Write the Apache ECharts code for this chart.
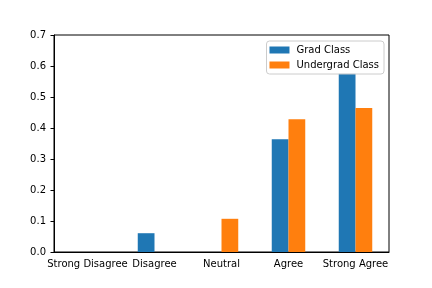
<!DOCTYPE html>
<html><head><meta charset="utf-8">
<script src="https://cdn.jsdelivr.net/npm/echarts@6/dist/echarts.min.js"></script>
<style>html,body{margin:0;padding:0;background:#fff}#c{width:432px;height:288px}</style>
</head><body><div id="c"></div>
<script>
const categories = ['Strong Disagree', 'Disagree', 'Neutral', 'Agree', 'Strong Agree'];
const gradValues = [0, 0.0606, 0, 0.3636, 0.5758];
const undergradValues = [0, 0, 0.1071, 0.4286, 0.4643];
const yTicks = [0, 0.1, 0.2, 0.3, 0.4, 0.5, 0.6, 0.7];
const seriesNames = ['Grad Class', 'Undergrad Class'];

const chart = echarts.init(document.getElementById('c'), null, {renderer: 'canvas'});
const font = 'DejaVu Sans';
chart.setOption({
  animation: false,
  color: ['#1f77b4', '#ff7f0e'],
  grid: {left: 54, right: 43, top: 35, bottom: 36, show: true, borderColor: '#000', borderWidth: 1, backgroundColor: 'transparent'},
  legend: {
    orient: 'vertical', right: 48, top: 41,
    itemWidth: 20, itemHeight: 7, itemGap: 5,
    padding: [4, 5, 4, 3],
    borderColor: '#ccc', borderWidth: 1, borderRadius: 3,
    backgroundColor: 'rgba(255,255,255,0.8)',
    icon: 'rect',
    textStyle: {fontFamily: font, fontSize: 10, color: '#000', padding: [0, 0, 0, 2]},
    data: seriesNames
  },
  xAxis: {
    type: 'category', data: categories,
    axisLine: {lineStyle: {color: '#000', width: 1}},
    axisTick: {alignWithLabel: true, length: 3.5, lineStyle: {color: '#000'}},
    axisLabel: {fontFamily: font, fontSize: 10, color: '#000', margin: 7, interval: 0}
  },
  yAxis: {
    type: 'value', min: yTicks[0], max: yTicks[yTicks.length - 1], interval: 0.1,
    splitLine: {show: false},
    axisLine: {show: true, lineStyle: {color: '#000', width: 1}},
    axisTick: {show: true, length: 3.5, lineStyle: {color: '#000'}},
    axisLabel: {fontFamily: font, fontSize: 10, color: '#000', margin: 8, formatter: v => v.toFixed(1)}
  },
  series: [
    {name: seriesNames[0], type: 'bar', data: gradValues, barWidth: '25%', barGap: '0%'},
    {name: seriesNames[1], type: 'bar', data: undergradValues, barWidth: '25%', barGap: '0%'}
  ]
});
</script></body></html>
